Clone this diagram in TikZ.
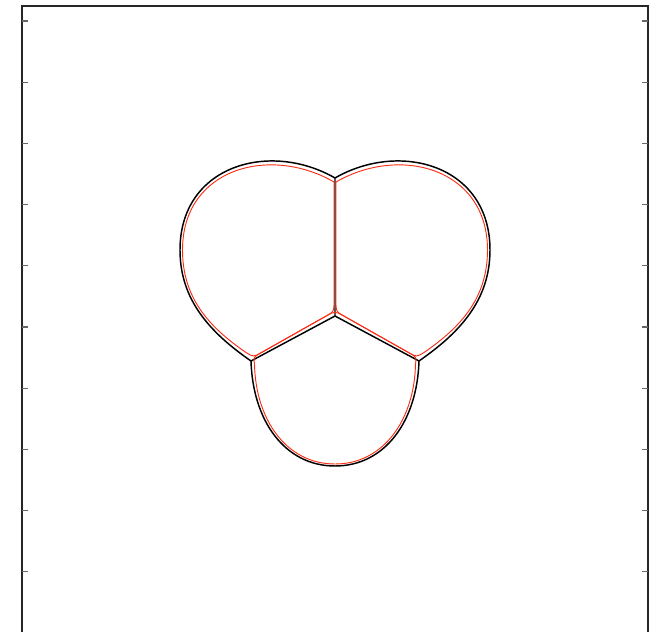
\documentclass[tikz,border=0pt]{standalone}
\definecolor{approxred}{RGB}{250,45,20}
\begin{document}
\begin{tikzpicture}[x=0.75pt,y=-0.75pt,
    frame/.style={line width=1.2pt, black!85},
    tick/.style={line width=0.8pt, black!60},
    bubble/.style={line width=1.1pt, black, line join=round},
    approx/.style={line width=0.7pt, approxred, line join=round}]
    \useasboundingbox (0,0) rectangle (662,632);
    \clip (0,0) rectangle (662,632);
    % axes box and ticks
    \draw[frame] (22,640) -- (22,6) -- (648,6) -- (648,640);
    \foreach \i in {0,...,9} {
        \draw[tick] (22,{21+61.2*\i}) -- ++(6,0);
        \draw[tick] (648,{21+61.2*\i}) -- ++(-6,0);
    }
    % junctions
    \coordinate (T) at (335,178);
    \coordinate (C) at (335,316);
    \coordinate (L) at (251,361);
    \coordinate (R) at (419,361);
    \coordinate (B) at (335,466);
    % exact bubble
    \draw[bubble] (T) -- (C) (L) -- (C) -- (R);
    \draw[bubble] (L) .. controls (252.8,421) and (285,466) .. (B) .. controls (385,466) and (417.2,421) .. (R);
    \foreach \s/\o in {1/0,-1/670} {
        \begin{scope}[shift={(\o,0)}, xscale=\s]
            \draw[bubble] (335,178) .. controls (270,140.5) and (180,165) .. (180,250)
                .. controls (180,300) and (210,332.5) .. (251,361);
            % approximation, side lobe
            \draw[approx] (334,182) .. controls (270,145) and (182.5,168) .. (182.5,250)
                .. controls (182.5,298) and (209,327) .. (246,352.5) .. controls (253.5,357) .. (261,352.8)
                -- (326,316.1) .. controls (334,311.6) .. (334,302) -- cycle;
        \end{scope}
    }
    % approximation, bottom lobe
    \draw[approx] (254.5,364) .. controls (255.5,419) and (286,464) .. (335,464)
        .. controls (384,464) and (414.5,419) .. (415.5,364) .. controls (416.5,357) .. (409,352.8)
        -- (344,316.1) .. controls (335,311) .. (326,316.1) -- (261,352.8) .. controls (253.5,357) .. (254.5,364) -- cycle;
\end{tikzpicture}
\end{document}
